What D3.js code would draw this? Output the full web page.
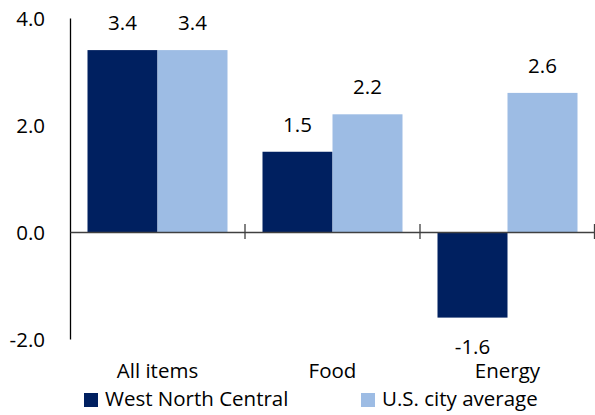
<!DOCTYPE html>
<html><head><meta charset="utf-8">
<script src="https://cdn.jsdelivr.net/npm/d3@7"></script>
<style>body{margin:0;background:#fff}svg{display:block}text{font-family:"Open Sans",sans-serif;fill:#000}</style>
</head><body><svg id="c" width="595" height="415"></svg>
<script>
const categories = ["All items", "Food", "Energy"];
const seriesNames = ["West North Central", "U.S. city average"];
const westNorthCentral = [3.4, 1.5, -1.6];
const usCityAverage = [3.4, 2.2, 2.6];
const yTicks = [-2, 0, 2, 4];
const colors = ["#002060", "#9dbce4"];
const FS = 20.5;
const fmt = (v) => v.toFixed(1);

const svg = d3.select("#c");
const x = d3.scaleBand().domain(categories).range([70, 595]).paddingInner(0).paddingOuter(0);
const y = d3.scaleLinear().domain([-2, 4]).range([339, 18]);
const xs = d3.scaleBand().domain(seriesNames).range([0, x.bandwidth()]).paddingInner(0).paddingOuter(0.25);
const series = [westNorthCentral, usCityAverage];

series.forEach((vals, si) => {
  const g = svg.append("g");
  g.selectAll("rect").data(categories).join("rect")
    .attr("x", (c) => x(c) + xs(seriesNames[si]))
    .attr("width", xs.bandwidth())
    .attr("y", (c, i) => y(Math.max(0, vals[i])))
    .attr("height", (c, i) => Math.abs(y(vals[i]) - y(0)))
    .attr("fill", colors[si]);
  g.selectAll("text").data(categories).join("text")
    .attr("x", (c) => x(c) + xs(seriesNames[si]) + xs.bandwidth() / 2)
    .attr("y", (c, i) => vals[i] >= 0 ? y(vals[i]) - 20 : y(vals[i]) + 36)
    .attr("text-anchor", "middle")
    .attr("font-size", FS)
    .text((c, i) => fmt(vals[i]));
});

// y axis
const yAxis = svg.append("g").attr("transform", "translate(70,0)")
  .call(d3.axisLeft(y).tickValues(yTicks).tickSize(0).tickPadding(25).tickFormat(fmt));
yAxis.select(".domain").attr("stroke", "#000").attr("stroke-width", 1.3);
yAxis.selectAll("text").attr("font-size", FS).attr("font-family", "'Open Sans',sans-serif").attr("dy", "0.35em");

// zero line with ticks
const xAxis = svg.append("g").attr("transform", `translate(0,${y(0)})`)
  .call(d3.axisBottom(x).tickValues([]).tickSizeOuter(0));
xAxis.select(".domain").attr("stroke", "#404040").attr("stroke-width", 1.3);
const bounds = [x("Food"), x("Energy"), x("Energy") + x.bandwidth() - 0.5];
xAxis.selectAll(".tk").data(bounds).join("line").attr("class", "tk")
  .attr("x1", (d) => d).attr("x2", (d) => d).attr("y1", -8).attr("y2", 7)
  .attr("stroke", "#404040").attr("stroke-width", 1.3);

// category labels
svg.append("g").selectAll("text").data(categories).join("text")
  .attr("x", (c) => x(c) + x.bandwidth() / 2)
  .attr("y", 378)
  .attr("text-anchor", "middle").attr("font-size", FS)
  .text((c) => c);

// legend
const legX = [84, 361];
const leg = svg.append("g").selectAll("g").data(seriesNames).join("g")
  .attr("transform", (d, i) => `translate(${legX[i]},393)`);
leg.append("rect").attr("width", 14).attr("height", 14).attr("fill", (d, i) => colors[i]);
leg.append("text").attr("x", 21).attr("y", 12.5).attr("font-size", FS).text((d) => d);
</script></body></html>
